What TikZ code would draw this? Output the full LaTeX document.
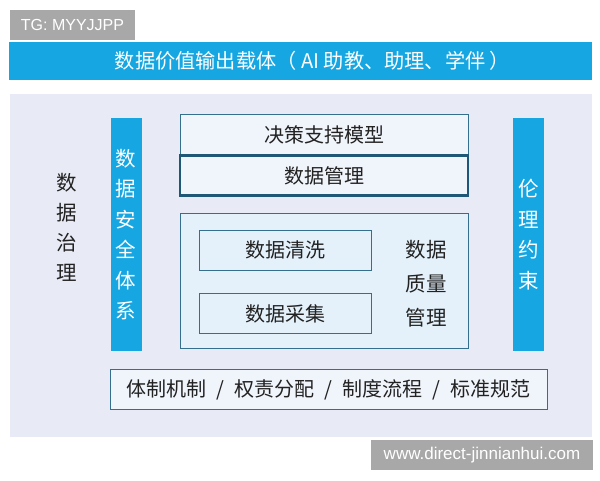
\documentclass[tikz,border=0pt]{standalone}
\usepackage{fontspec}
\usepackage{xcolor}
\usepackage{tikz}
\usetikzlibrary{positioning}
\setmainfont{Noto Sans CJK SC}
\newfontfamily\latinfont{Liberation Sans}
\definecolor{barblue}{RGB}{22, 166, 226}
\definecolor{panelgray}{RGB}{232, 235, 245}
\definecolor{tagggray}{RGB}{168, 168, 168}
\definecolor{edgeblue}{RGB}{52, 112, 142}
\definecolor{darkedge}{RGB}{30, 88, 118}
\definecolor{boxwhite}{RGB}{240, 244, 251}
\definecolor{boxlight}{RGB}{228, 241, 251}
\definecolor{inktext}{RGB}{34, 34, 34}

\begin{document}
\begin{tikzpicture}[
    x=1pt, y=-1pt,
    tagbox/.style={rectangle, fill=tagggray, text=white, inner sep=0pt, font=\latinfont\fontsize{16}{18}\selectfont},
    banner/.style={rectangle, fill=barblue, text=white, inner sep=0pt, minimum width=583pt, minimum height=38pt, font=\fontsize{20.2}{24}\selectfont},
    sidebar/.style={rectangle, fill=barblue, text=white, inner sep=0pt, minimum width=31pt, minimum height=233pt, align=center, font=\fontsize{20.5}{30.5}\selectfont},
    layer/.style={rectangle, draw=edgeblue, line width=0.9pt, fill=boxwhite, text=inktext, inner sep=0pt, minimum width=288pt, font=\fontsize{20}{24}\selectfont},
    subbox/.style={rectangle, draw=edgeblue, line width=0.9pt, fill=boxlight, text=inktext, inner sep=0pt, minimum width=172pt, minimum height=40pt, font=\fontsize{20}{24}\selectfont},
    vtext/.style={text=inktext, inner sep=0pt, align=center, font=\fontsize{20.5}{30}\selectfont}
]
\useasboundingbox (0,0) rectangle (600,480);
\fill[white] (0,0) rectangle (600,480);

% header
\node[tagbox, minimum width=125pt, minimum height=30pt] (tag) at (72.5,25) {TG: MYYJJPP};
\node[banner] (carrier) at (300,61) {\hspace{25pt}数据价值输出载体（ AI 助教、助理、学伴 ）};

% panel
\node[rectangle, fill=panelgray, inner sep=0pt, minimum width=582pt, minimum height=343pt] (panel) at (301,265.5) {};

\node[vtext] (govern) at (67,227) {数\\据\\治\\理};
\node[sidebar] (security) at (126,234.5) {数\\据\\安\\全\\体\\系};
\node[sidebar] (ethics) at (528.5,234.5) {伦\\理\\约\\束};

% middle stack
\node[layer, minimum height=40pt] (model) at (324,134.5) {决策支持模型};
\node[layer, draw=darkedge, line width=2.2pt, minimum height=40pt] (mgmt) at (324,175.5) {数据管理};
\node[layer, fill=boxlight, minimum height=135pt] (quality) at (324,280.5) {};
\node[subbox] (clean) at (285.5,250) {数据清洗};
\node[subbox, below=23pt of clean] (collect) {数据采集};
\node[vtext, font=\fontsize{20.5}{34}\selectfont] (qlabel) at (426,284) {数据\\质量\\管理};

% base
\node[layer, minimum width=437pt, minimum height=40pt] (base) at (328.5,389.5) {体制机制\hspace{0.5em}/\hspace{0.5em}权责分配\hspace{0.5em}/\hspace{0.5em}制度流程\hspace{0.5em}/\hspace{0.5em}标准规范};

% footer
\node[tagbox, font=\latinfont\fontsize{17}{19}\selectfont, minimum width=222pt, minimum height=30pt] (site) at (482,455) {www.direct-jinnianhui.com};

\end{tikzpicture}
\end{document}
